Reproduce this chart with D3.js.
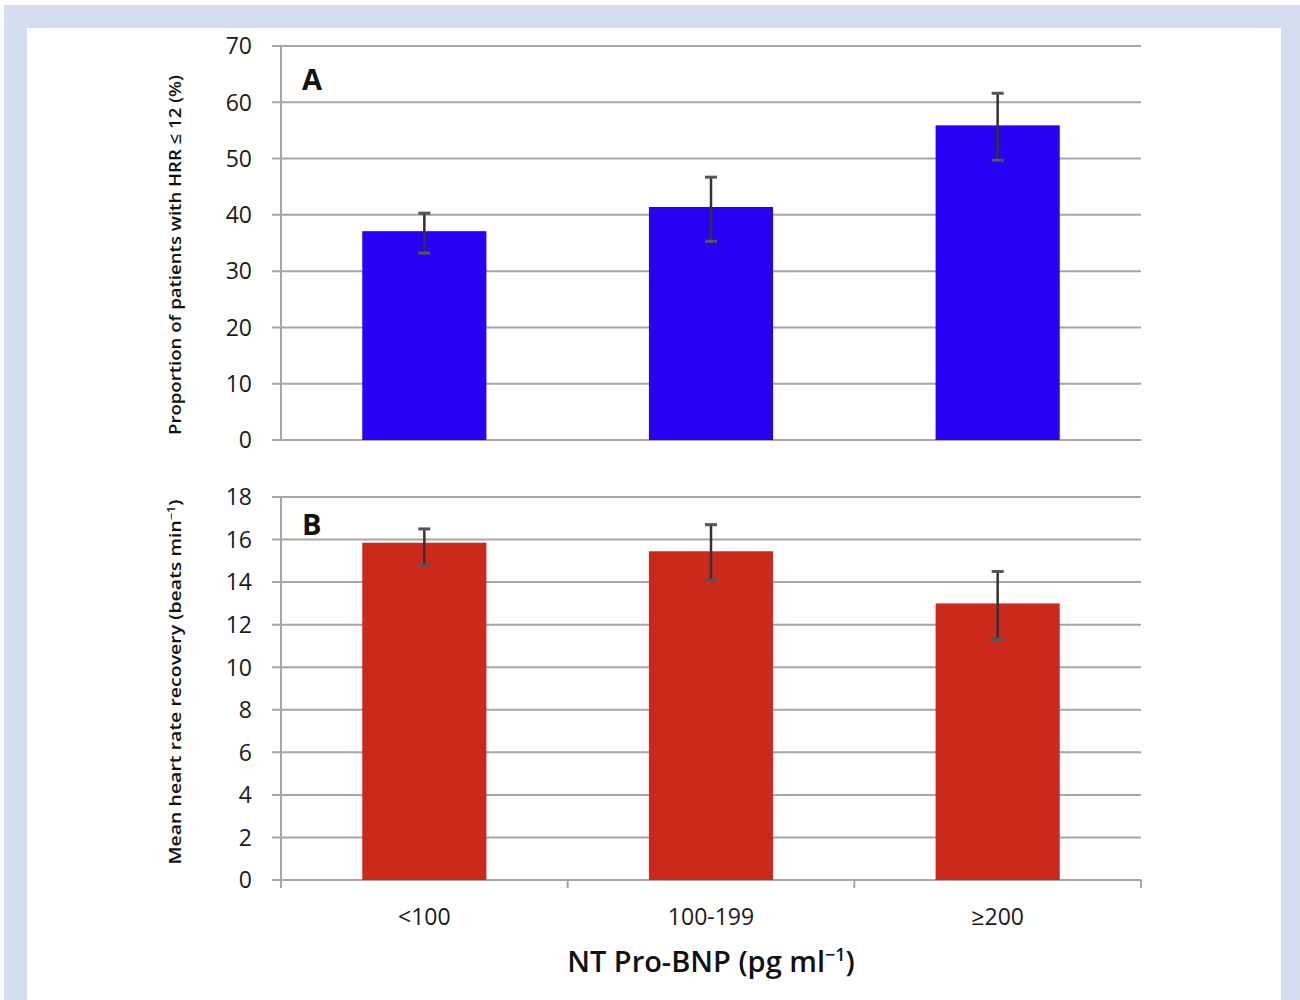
<!DOCTYPE html>
<html>
  <head>
    <title>HRR by NT Pro-BNP</title>
    <script src="https://cdn.jsdelivr.net/npm/d3@7"></script>
    <style>
      body { margin: 0; background: #fff; }
    </style>
  </head>
  <body>
    <svg width="1300" height="1000" id="mainsvg"></svg>
    <script>
        const categories = ['<100', '100-199', '\u2265200'];

        // panel A: proportion with HRR <= 12 (%)
        const propValues = [37.1, 41.4, 55.9];
        const propLow = [33.2, 35.3, 49.7];
        const propHigh = [40.3, 46.7, 61.6];
        const propTicks = [0, 10, 20, 30, 40, 50, 60, 70];

        // panel B: mean heart rate recovery (beats/min)
        const hrrValues = [15.85, 15.45, 13.0];
        const hrrLow = [14.8, 14.1, 11.3];
        const hrrHigh = [16.5, 16.7, 14.5];
        const hrrTicks = [0, 2, 4, 6, 8, 10, 12, 14, 16, 18];

        const svg = d3.select('#mainsvg');
        const font = '"Open Sans", "Liberation Sans", sans-serif';

        // frame
        svg.append('rect').attr('x', 4).attr('y', 5).attr('width', 1296).attr('height', 995).attr('fill', '#d5ddef');
        svg.append('rect').attr('x', 27).attr('y', 28).attr('width', 1254).attr('height', 972).attr('fill', '#fff');

        const left = 281, right = 1141;
        const xScale = d3.scaleBand()
          .domain(categories)
          .range([left, right])
          .paddingInner(0.567)
          .paddingOuter(0.2835);

        const gridColor = '#a6a6a6';

        function panel(opts) {
          const yScale = d3.scaleLinear().domain(opts.domain).range([opts.bottom, opts.top]);
          const g = svg.append('g');

          // gridlines with outer ticks
          g.selectAll('.grid').data(opts.ticks).join('line')
            .attr('x1', left - 9).attr('x2', right)
            .attr('y1', d => yScale(d)).attr('y2', d => yScale(d))
            .attr('stroke', gridColor).attr('stroke-width', 2);

          // y axis line
          g.append('line').attr('x1', left).attr('x2', left)
            .attr('y1', opts.top).attr('y2', opts.bottom)
            .attr('stroke', gridColor).attr('stroke-width', 2);

          g.selectAll('.ytl').data(opts.ticks).join('text')
            .attr('x', 252).attr('y', d => yScale(d)).attr('dy', '0.36em')
            .attr('text-anchor', 'end').attr('font-family', font).attr('font-size', 23)
            .attr('fill', '#1a1a1a').text(d => d);

          // bars
          g.selectAll('.bar').data(opts.values).join('rect')
            .attr('x', (d, i) => xScale(categories[i]))
            .attr('width', xScale.bandwidth())
            .attr('y', d => yScale(d))
            .attr('height', d => opts.bottom - yScale(d))
            .attr('fill', opts.color);

          // error bars
          categories.forEach((c, i) => {
            const cx = xScale(c) + xScale.bandwidth() / 2;
            g.append('line').attr('x1', cx).attr('x2', cx)
              .attr('y1', yScale(opts.low[i])).attr('y2', yScale(opts.high[i]))
              .attr('stroke', '#333').attr('stroke-width', 2.5);
            [opts.low[i], opts.high[i]].forEach(v => {
              g.append('line').attr('x1', cx - 6).attr('x2', cx + 6)
                .attr('y1', yScale(v)).attr('y2', yScale(v))
                .attr('stroke', '#555').attr('stroke-width', 3);
            });
          });

          // panel letter
          g.append('text').attr('x', 302).attr('y', opts.top + opts.letterDy)
            .attr('font-family', font).attr('font-weight', 'bold').attr('font-size', 29)
            .attr('fill', '#111').text(opts.letter);

          // y title
          g.append('text')
            .attr('transform', `translate(181, ${opts.titleMid}) rotate(-90)`)
            .attr('text-anchor', 'middle').attr('font-family', font)
            .attr('font-weight', 600).attr('font-size', 17).attr('fill', '#111')
            .attr('textLength', opts.titleLen).attr('lengthAdjust', 'spacingAndGlyphs')
            .html(opts.title);

          return yScale;
        }

        panel({
          domain: [0, 70], top: 46, bottom: 440, ticks: propTicks,
          values: propValues, low: propLow, high: propHigh,
          color: '#2a00f5', letter: 'A', letterDy: 44,
          titleMid: 255, titleLen: 360,
          title: 'Proportion of patients with HRR \u2264 12 (%)'
        });

        panel({
          domain: [0, 18], top: 497, bottom: 880, ticks: hrrTicks,
          values: hrrValues, low: hrrLow, high: hrrHigh,
          color: '#cc291d', letter: 'B', letterDy: 38,
          titleMid: 682, titleLen: 365,
          title: 'Mean heart rate recovery (beats min<tspan dy="-6" font-size="11">\u22121</tspan><tspan dy="6">)</tspan>'
        });

        // x axis ticks (bottom panel)
        const xTicks = [left, ...categories.map(c => xScale(c) + xScale.bandwidth() / 2 + xScale.step() / 2)];
        svg.selectAll('.xt').data(xTicks).join('line')
          .attr('x1', d => d).attr('x2', d => d).attr('y1', 880).attr('y2', 888)
          .attr('stroke', gridColor).attr('stroke-width', 2);

        svg.selectAll('.xl').data(categories).join('text')
          .attr('x', d => xScale(d) + xScale.bandwidth() / 2).attr('y', 925)
          .attr('text-anchor', 'middle').attr('font-family', font).attr('font-size', 23)
          .attr('fill', '#1a1a1a').text(d => d);

        svg.append('text').attr('x', 711).attr('y', 972)
          .attr('text-anchor', 'middle').attr('font-family', font)
          .attr('font-weight', 600).attr('font-size', 29).attr('fill', '#111')
          .html('NT Pro-BNP (pg ml<tspan dy="-11" font-size="18">\u22121</tspan><tspan dy="11">)</tspan>');
    </script>
  </body>
</html>
